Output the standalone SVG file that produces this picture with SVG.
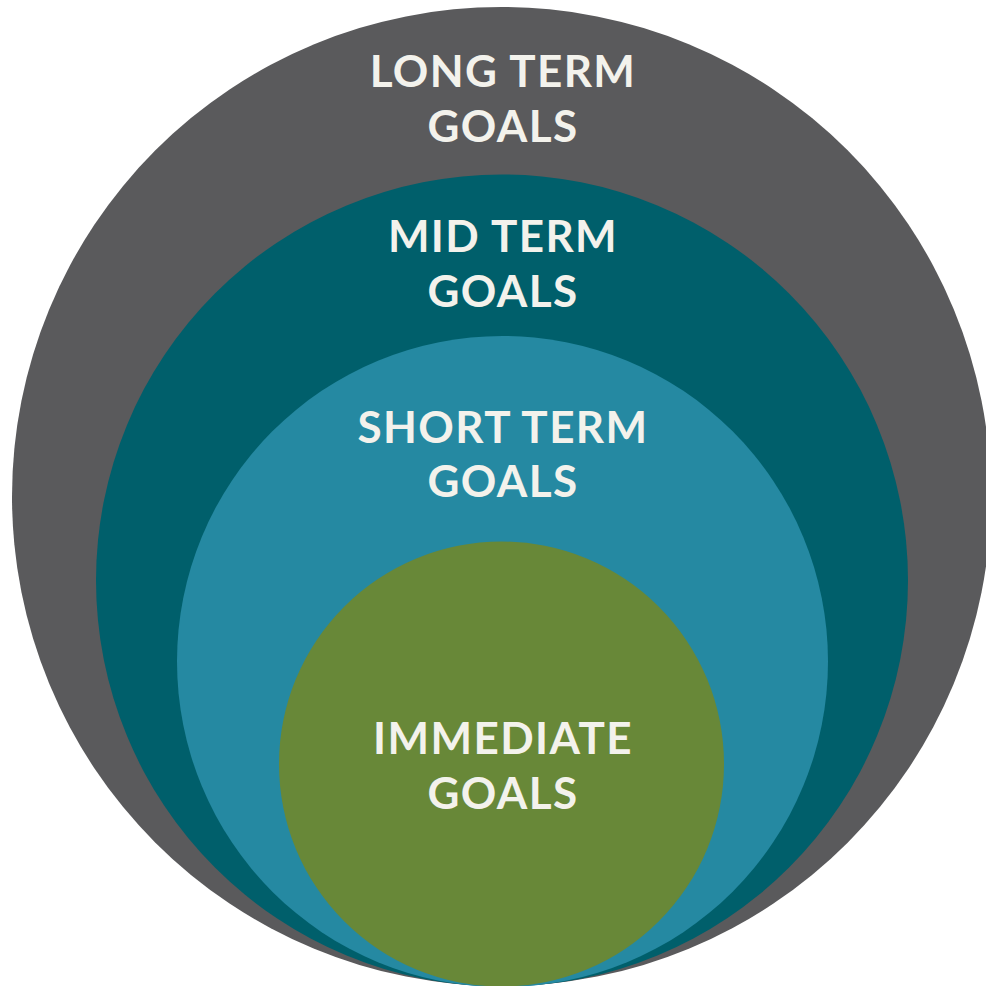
<svg xmlns="http://www.w3.org/2000/svg" width="986" height="986" viewBox="0 0 986 986">
<style>
.t{font-family:Lato,"Open Sans","Liberation Sans",sans-serif;font-weight:700;font-size:44px;letter-spacing:1.4px;fill:#f3f2ec;text-anchor:middle}
</style>
<rect width="986" height="986" fill="#ffffff"/>
<g id="long-term">
<circle cx="501.5" cy="496.5" r="489.5" fill="#5a5a5c"/>
<text class="t" x="503" y="87">LONG TERM</text>
<text class="t" x="503" y="142">GOALS</text>
</g>
<g id="mid-term">
<circle cx="502" cy="580.5" r="406" fill="#005f6b"/>
<text class="t" x="503" y="252">MID TERM</text>
<text class="t" x="503" y="307">GOALS</text>
</g>
<g id="short-term">
<circle cx="502.5" cy="661.5" r="325.5" fill="#2589a2"/>
<text class="t" x="503" y="443">SHORT TERM</text>
<text class="t" x="503" y="497">GOALS</text>
</g>
<g id="immediate">
<circle cx="501.5" cy="764" r="222.5" fill="#688838"/>
<text class="t" x="503" y="754">IMMEDIATE</text>
<text class="t" x="503" y="809">GOALS</text>
</g>
<g id="connectors"/>
</svg>
